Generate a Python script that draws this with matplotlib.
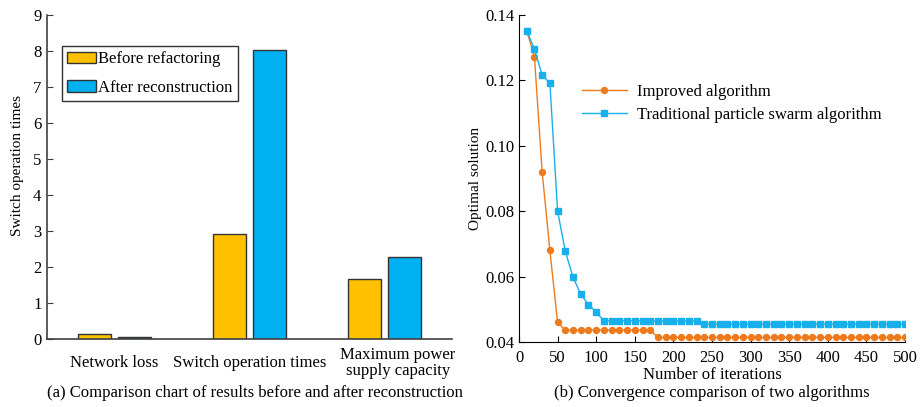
import matplotlib
matplotlib.use("Agg")
import matplotlib.pyplot as plt
import numpy as np

plt.rcParams['font.family'] = ['Liberation Serif', 'DejaVu Serif']
plt.rcParams['mathtext.fontset'] = 'stix'

# left panel: comparison before / after reconstruction
categories = ["Network loss", "Switch operation times", "Maximum power\nsupply capacity"]
before_vals = [0.14, 2.93, 1.67]
after_vals = [0.06, 8.02, 2.29]

# right panel: convergence curves (one point every 10 iterations)
iterations = list(range(10, 510, 10))
improved = ([0.1352, 0.1272, 0.0920, 0.0680, 0.0460]
            + [0.0436] * 12
            + [0.0414] * 33)
traditional = ([0.1352, 0.1296, 0.1216, 0.1192, 0.0800, 0.0677, 0.0598,
                0.0546, 0.0514, 0.0492]
               + [0.0464] * 13
               + [0.0455] * 27)

W, H = 921, 407
fig = plt.figure(figsize=(W / 100, H / 100), dpi=100)

def px_axes(x0, y0, x1, y1):
    return fig.add_axes([x0 / W, 1 - y1 / H, (x1 - x0) / W, (y1 - y0) / H])

# ---------------- left ----------------
ax1 = px_axes(47, 14.7, 452, 339.3)
x = np.arange(1, len(categories) + 1)
bw = 0.245
off = 0.145
ax1.bar(x - off, before_vals, bw, color="#FFC000", edgecolor="#333333",
        linewidth=1.0, label="Before refactoring")
ax1.bar(x + off, after_vals, bw, color="#00B0F0", edgecolor="#333333",
        linewidth=1.0, label="After reconstruction")
ax1.set_xlim(0.5, 3.5)
ax1.set_ylim(0, 9)
ax1.set_yticks(range(0, 10))
# the last category label sits a little right of its group in the original
label_pos = x + np.array([0, 0, 0.1])
ax1.set_xticks(label_pos)
ax1.set_xticklabels(categories, fontsize=12, va="center", multialignment="center",
                    linespacing=1.05)
ax1.tick_params(axis="x", length=0, pad=17)
ax1.tick_params(axis="y", direction="in", length=4, labelsize=12, pad=4,
                color="#404040")
for s in ["top", "right"]:
    ax1.spines[s].set_visible(False)
for s in ["left", "bottom"]:
    ax1.spines[s].set_color("#404040")
    ax1.spines[s].set_linewidth(1.2)
ax1.set_ylabel("Switch operation times", fontsize=11, va="center")
ax1.yaxis.set_label_coords(-29 / 405, (339.3 - 166) / 324.6)
leg1 = ax1.legend(loc="upper left", bbox_to_anchor=(0.037, 0.903), borderaxespad=0,
                  fontsize=12, frameon=True, fancybox=False, edgecolor="black",
                  handlelength=1.75, handleheight=0.7, handletextpad=0.12,
                  labelspacing=0.75, borderpad=0.3)
leg1.get_frame().set_linewidth(1.0)

# ---------------- right ----------------
ax2 = px_axes(519, 15, 905, 342)
ax2.plot(iterations, improved, color="#EE7A1E", marker="o", markersize=4.3,
         linewidth=1.0, label="Improved algorithm")
ax2.plot(iterations, traditional, color="#18B0EA", marker="s", markersize=4.1,
         linewidth=1.0, label="Traditional particle swarm algorithm")
ax2.set_xlim(0, 500)
ax2.set_ylim(0.04, 0.14)
ax2.set_xticks(range(0, 550, 50))
ax2.set_yticks([0.04, 0.06, 0.08, 0.10, 0.12, 0.14])
ax2.yaxis.set_major_formatter(matplotlib.ticker.FormatStrFormatter("%.2f"))
ax2.tick_params(direction="in", length=4, labelsize=12)
ax2.tick_params(axis="x", pad=6)
for s in ["top", "right"]:
    ax2.spines[s].set_visible(False)
ax2.set_ylabel("Optimal solution", fontsize=11, va="center")
ax2.yaxis.set_label_coords(-44 / 386, 0.5)
ax2.set_xlabel("Number of iterations", fontsize=12, va="center")
ax2.xaxis.set_label_coords(0.5, -33 / 327)
ax2.legend(loc="upper left", bbox_to_anchor=(0.163, 0.79), borderaxespad=0,
           frameon=False, fontsize=12, handlelength=2.7, handletextpad=0.6,
           labelspacing=0.42, borderpad=0)

fig.text(255 / W, 1 - 393 / H, "(a) Comparison chart of results before and after reconstruction",
         ha="center", va="center", fontsize=12)
fig.text(712 / W, 1 - 393 / H, "(b) Convergence comparison of two algorithms",
         ha="center", va="center", fontsize=12)

fig.savefig("out.png", dpi=100)
